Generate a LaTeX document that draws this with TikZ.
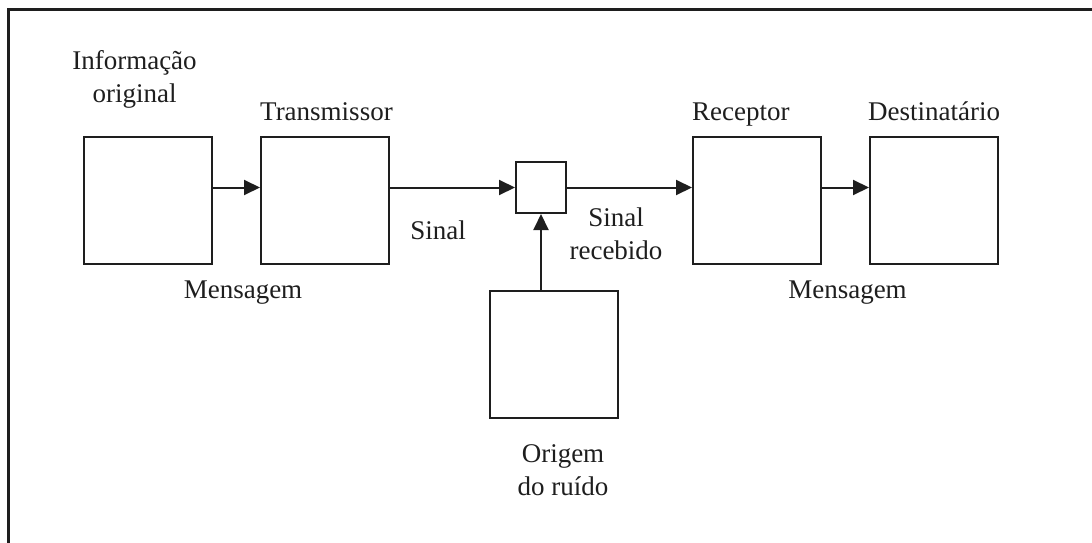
\documentclass[tikz,border=0pt]{standalone}
\usepackage{fontspec}
\setmainfont{Liberation Serif}
\usetikzlibrary{arrows.meta}
\definecolor{ink}{HTML}{1E1E1E}
\tikzset{
  blk/.style={draw=ink, line width=2pt, rectangle, inner sep=0pt, minimum width=128pt, minimum height=127pt},
  smallblk/.style={draw=ink, line width=2pt, rectangle, inner sep=0pt, minimum width=50pt, minimum height=51pt},
  arr/.style={draw=ink, line width=2pt, -{Triangle[length=16pt, width=15pt]}},
  lbl/.style={text=ink, inner sep=0pt, anchor=base, align=center, font=\fontsize{27}{32.5}\selectfont},
}
\begin{document}
\begin{tikzpicture}[x=1pt, y=-1pt]
\useasboundingbox (0,0) rectangle (1092,543);
\draw[ink, line width=3pt] (8,10) rectangle (1120,580);
% blocks
\node[blk] (src) at (147.5,200.5) {};
\node[blk] (tx) at (325,200.5) {};
\node[smallblk] (mix) at (541,187.5) {};
\node[blk] (rx) at (757,200.5) {};
\node[blk] (dst) at (934,200.5) {};
\node[blk] (noise) at (553.5,354) {};
% connectors
\draw[arr] (src.east |- mix.west) -- (tx.west |- mix.west);
\draw[arr] (tx.east |- mix.west) -- (mix.west);
\draw[arr] (mix.east) -- (rx.west |- mix.east);
\draw[arr] (rx.east |- mix.west) -- (dst.west |- mix.west);
\draw[arr] (noise.north -| mix.south) -- (mix.south);
% labels (multi-line nodes: base = baseline of last line)
\node[lbl] (tinfo) at (134.5,102) {Informação\\original};
\node[lbl, anchor=base west] (ttx) at (260,120) {Transmissor};
\node[lbl, anchor=base west] (trx) at (692,120) {Receptor};
\node[lbl, anchor=base west] (tdst) at (868,120) {Destinatário};
\node[lbl] (tmsg1) at (243,298) {Mensagem};
\node[lbl] (tsig) at (438,239) {Sinal};
\node[lbl] (tsigr) at (616,259) {Sinal\\recebido};
\node[lbl] (tmsg2) at (847.5,298) {Mensagem};
\node[lbl] (tnoise) at (563,495) {Origem\\do ruído};
\end{tikzpicture}
\end{document}
